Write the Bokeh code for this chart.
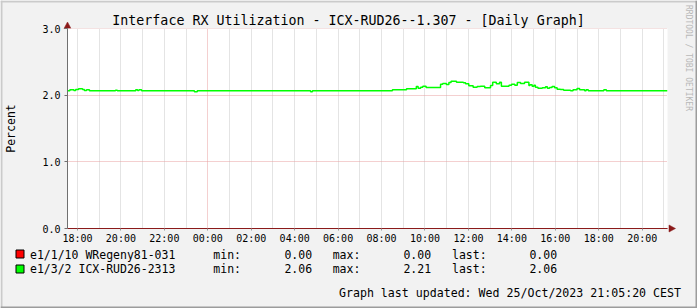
import math
from bokeh.plotting import figure
from bokeh.models import Range1d, FixedTicker, Grid
from bokeh.core.properties import value
from bokeh.embed import file_html
from bokeh.resources import INLINE

# ---------------- data ----------------
title_text = "Interface RX Utilization - ICX-RUD26--1.307 - [Daily Graph]"
y_title = "Percent"
side_text = "RRDTOOL / TOBI OETIKER"
updated_text = "Graph last updated: Wed 25/Oct/2023 21:05:20 CEST"

# minutes relative to 25/Oct 00:00 (negative = 24/Oct)
green_t_min = [-388, -381, -370, -365, -357, -346, -341, -335, -327, -255, -250,
               -199, -194, -190, -183, -37, -29, 284, 289, 510, 549, 576, 581,
               588, 594, 603, 643, 649, 659, 666, 672, 687, 706, 712, 721, 733,
               744, 753, 765, 781, 787, 797, 806, 811, 832, 839, 848, 855, 864,
               875, 887, 890, 896, 901, 905, 912, 924, 933, 938, 944, 951, 958,
               965, 974, 983, 1002, 1009, 1020, 1027, 1041, 1045, 1051, 1094,
               1101, 1270]
green_val = [2.065, 2.080, 2.072, 2.087, 2.095, 2.087, 2.072, 2.080, 2.065, 2.075,
             2.065, 2.080, 2.070, 2.080, 2.065, 2.050, 2.065, 2.050, 2.065, 2.080,
             2.095, 2.130, 2.105, 2.120, 2.135, 2.115, 2.165, 2.175, 2.160, 2.190,
             2.210, 2.195, 2.185, 2.170, 2.140, 2.120, 2.130, 2.135, 2.110, 2.145,
             2.195, 2.170, 2.195, 2.135, 2.150, 2.165, 2.150, 2.190, 2.175, 2.195,
             2.145, 2.155, 2.135, 2.150, 2.120, 2.105, 2.110, 2.125, 2.105, 2.115,
             2.130, 2.110, 2.090, 2.085, 2.075, 2.065, 2.080, 2.102, 2.080, 2.065,
             2.080, 2.065, 2.080, 2.065, 2.065]
red_t_min = [-388, 1270]
red_val = [0.0, 0.0]

x_start_h = -6.459
x_end_h = 21.165
x_tick_hours = [-6, -4, -2, 0, 2, 4, 6, 8, 10, 12, 14, 16, 18, 20]
x_tick_labels = ["18:00", "20:00", "22:00", "00:00", "02:00", "04:00", "06:00",
                 "08:00", "10:00", "12:00", "14:00", "16:00", "18:00", "20:00"]
x_minor_hours = [h for h in range(-6, 22) if h != 0]
x_major_hours = [0]
y_ticks = [0, 1, 2, 3]
y_tick_labels = ["0.0", "1.0", "2.0", "3.0"]

series_names = ["e1/1/10 WRegeny81-031", "e1/3/2 ICX-RUD26-2313"]
series_colors = ["#FF0000", "#00FF00"]
stat_min = ["0.00", "2.06"]
stat_max = ["0.00", "2.21"]
stat_last = ["0.00", "2.06"]

MONO = value("DejaVu Sans Mono")
BACK = "#F2F2F2"
ARROW = "#8B1A1A"

# ---------------- background / decoration layer (pixel space) ----------------
d = figure(width=697, height=308, x_range=Range1d(0, 697), y_range=Range1d(308, 0),
           output_backend="svg", toolbar_location=None,
           x_axis_location=None, y_axis_location=None, min_border=0,
           background_fill_color=BACK, border_fill_color=BACK, outline_line_color=None,
           styles={"position": "absolute", "left": "0px", "top": "0px"})
d.grid.visible = False

# 3D frame
d.quad(left=[0, 0], right=[697, 2], top=[0, 0], bottom=[2, 308],
       fill_color="#CBCBCB", line_color=None)
d.quad(left=[695, 0], right=[697, 697], top=[0, 306], bottom=[308, 308],
       fill_color="#9C9C9C", line_color=None)

# axis arrows
d.patches(xs=[[63.5, 70.5, 67], [668.5, 668.5, 675]],
          ys=[[28, 28, 21.5], [224.5, 231.5, 228]],
          fill_color=ARROW, line_color=ARROW, line_width=0.5)

# title
d.text(x=[348], y=[20.3], text=[title_text], text_font=MONO, text_font_size="13.3px",
       text_align="center", text_baseline="alphabetic", text_color="#000000")
# y title
d.text(x=[10.5], y=[128], text=[y_title], text_font=MONO, text_font_size="11.5px",
       text_align="center", text_baseline="alphabetic", angle=math.pi / 2,
       text_color="#000000")
# side watermark
d.text(x=[687.5], y=[4.5], text=[side_text], text_font=MONO, text_font_size="8px",
       text_align="left", text_baseline="alphabetic", angle=-math.pi / 2,
       text_color="#B8B8B8")

# legend
row_base = [254.4, 268.4]
d.quad(left=[15.5, 15.5], right=[23.5, 23.5], top=[249.5, 264.5], bottom=[257.5, 272.5],
       fill_color=series_colors, line_color="#000000", line_width=1)

def txt(xs, ys, texts, align):
    d.text(x=xs, y=ys, text=texts, text_font=MONO, text_font_size="11.5px",
           text_align=align, text_baseline="alphabetic", text_color="#000000")

txt([29.5, 29.5], row_base, series_names, "left")
txt([212.8, 212.8], row_base, ["min:", "min:"], "left")
txt([311.6, 311.6], row_base, stat_min, "right")
txt([332.2, 332.2], row_base, ["max:", "max:"], "left")
txt([430.6, 430.6], row_base, stat_max, "right")
txt([451.5, 451.5], row_base, ["last:", "last:"], "left")
txt([556.6, 556.6], row_base, stat_last, "right")
d.text(x=[680.5], y=[292.7], text=[updated_text], text_font=MONO,
       text_font_size="11.6px", text_align="right", text_baseline="alphabetic",
       text_color="#000000")

# ---------------- chart layer ----------------
p = figure(width=697, height=308, x_range=Range1d(x_start_h, x_end_h),
           y_range=Range1d(0, 3.0005),
           output_backend="svg", toolbar_location=None,
           min_border_left=67, min_border_right=30, min_border_top=28, min_border_bottom=80,
           background_fill_color="#FFFFFF", border_fill_color=None, outline_line_color=None,
           styles={"position": "absolute", "left": "0px", "top": "0px"})

p.xgrid.ticker = FixedTicker(ticks=x_minor_hours)
p.xgrid.grid_line_color = "#C8C8C8"
p.xgrid.grid_line_dash = "1 1"
p.ygrid.ticker = FixedTicker(ticks=[t for t in y_ticks if t != 0])
p.ygrid.grid_line_color = "#E8A0A0"
p.ygrid.grid_line_dash = "1 1"
p.add_layout(Grid(dimension=0, ticker=FixedTicker(ticks=x_major_hours),
                  grid_line_color="#E8A0A0", grid_line_dash="1 1"))

xa = p.xaxis[0]
xa.ticker = FixedTicker(ticks=x_tick_hours)
xa.major_label_overrides = dict(zip(x_tick_hours, x_tick_labels))
xa.axis_line_color = ARROW
xa.major_tick_out = 2
xa.major_tick_in = 0
xa.major_tick_line_color = "#999999"
xa.major_label_standoff = 2

ya = p.yaxis[0]
ya.ticker = FixedTicker(ticks=y_ticks)
ya.major_label_overrides = dict(zip(y_ticks, y_tick_labels))
ya.axis_line_color = "#707070"
ya.major_tick_out = 3
ya.major_tick_in = 0
ya.major_tick_line_color = "#707070"
ya.major_label_standoff = 4

for ax in (xa, ya):
    ax.major_label_text_font = "DejaVu Sans Mono"
    ax.major_label_text_font_size = "10px"
    ax.major_label_text_color = "#000000"
    ax.minor_tick_line_color = None

p.line([t / 60 for t in red_t_min], red_val, line_color=series_colors[0], line_width=1)
p.step([t / 60 for t in green_t_min], green_val, mode="after",
       line_color=series_colors[1], line_width=1.5)

open("out.html", "w").write(file_html([d, p], INLINE))
